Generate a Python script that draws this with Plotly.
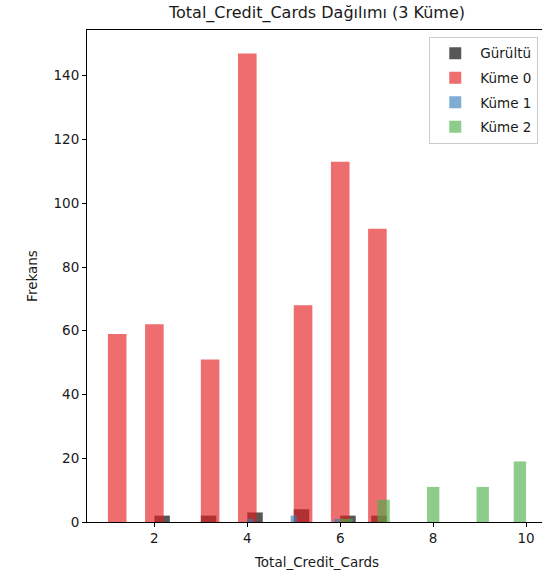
import numpy as np
import plotly.graph_objects as go

# Total_Credit_Cards values and how many customers fall on each, per cluster
noise_values = [2, 3, 4, 5, 6, 7]
noise_counts = [2, 2, 3, 4, 2, 2]

k0_values = [1, 2, 3, 4, 5, 6, 7]
k0_counts = [59, 62, 51, 147, 68, 113, 92]

k1_values = [4, 5, 6]
k1_counts = [1, 2, 1]

k2_values = [6, 7, 8, 9, 10]
k2_counts = [1, 7, 11, 11, 19]

series_names = ["Gürültü", "Küme 0", "Küme 1", "Küme 2"]
series_colors = [
    "rgba(0,0,0,0.66)",
    "rgba(228,26,28,0.64)",
    "rgba(55,126,184,0.64)",
    "rgba(77,175,74,0.64)",
]
N_BINS = 15

fig = go.Figure()
groups = [
    (noise_values, noise_counts),
    (k0_values, k0_counts),
    (k1_values, k1_counts),
    (k2_values, k2_counts),
]
for (vals, cnts), name, color in zip(groups, series_names, series_colors):
    data = np.repeat(vals, cnts)
    hist, edges = np.histogram(data, bins=N_BINS)
    fig.add_trace(go.Bar(
        x=edges[:-1],
        y=hist,
        width=np.diff(edges),
        offset=0,
        name=name,
        legendgroup=name,
        marker=dict(color=color, line=dict(width=0)),
    ))

font_color = "#1a1a1a"
axis_common = dict(
    showline=True, mirror=True, linecolor="black", linewidth=1,
    ticks="outside", ticklen=4, tickcolor="black", tickwidth=1,
    showgrid=False, zeroline=False,
    tickfont=dict(size=13.5, color=font_color),
)

fig.update_layout(
    width=548, height=579,
    margin=dict(l=87, r=1, t=30, b=57),
    paper_bgcolor="white", plot_bgcolor="white",
    barmode="overlay",
    font=dict(family="DejaVu Sans", color=font_color),
    title=dict(
        text="Total_Credit_Cards Dağılımı (3 Küme)",
        x=0.5, xref="paper", xanchor="center",
        y=1, yref="container", yanchor="top", pad=dict(t=7),
        font=dict(size=16, color=font_color),
    ),
    xaxis=dict(
        range=[0.55, 10.45], tickvals=[2, 4, 6, 8, 10],
        title=dict(text="Total_Credit_Cards", font=dict(size=13.5), standoff=12),
        **axis_common,
    ),
    yaxis=dict(
        range=[0, 154.35], tickvals=list(range(0, 141, 20)),
        title=dict(text="Frekans", font=dict(size=13.5), standoff=12),
        **axis_common,
    ),
    legend=dict(
        x=0.981, xanchor="right", y=0.986, yanchor="top",
        bgcolor="white", bordercolor="#cccccc", borderwidth=1,
        font=dict(size=13.5, color=font_color),
        tracegroupgap=4, itemwidth=40,
    ),
    showlegend=True,
)

fig.write_html("out.html")
